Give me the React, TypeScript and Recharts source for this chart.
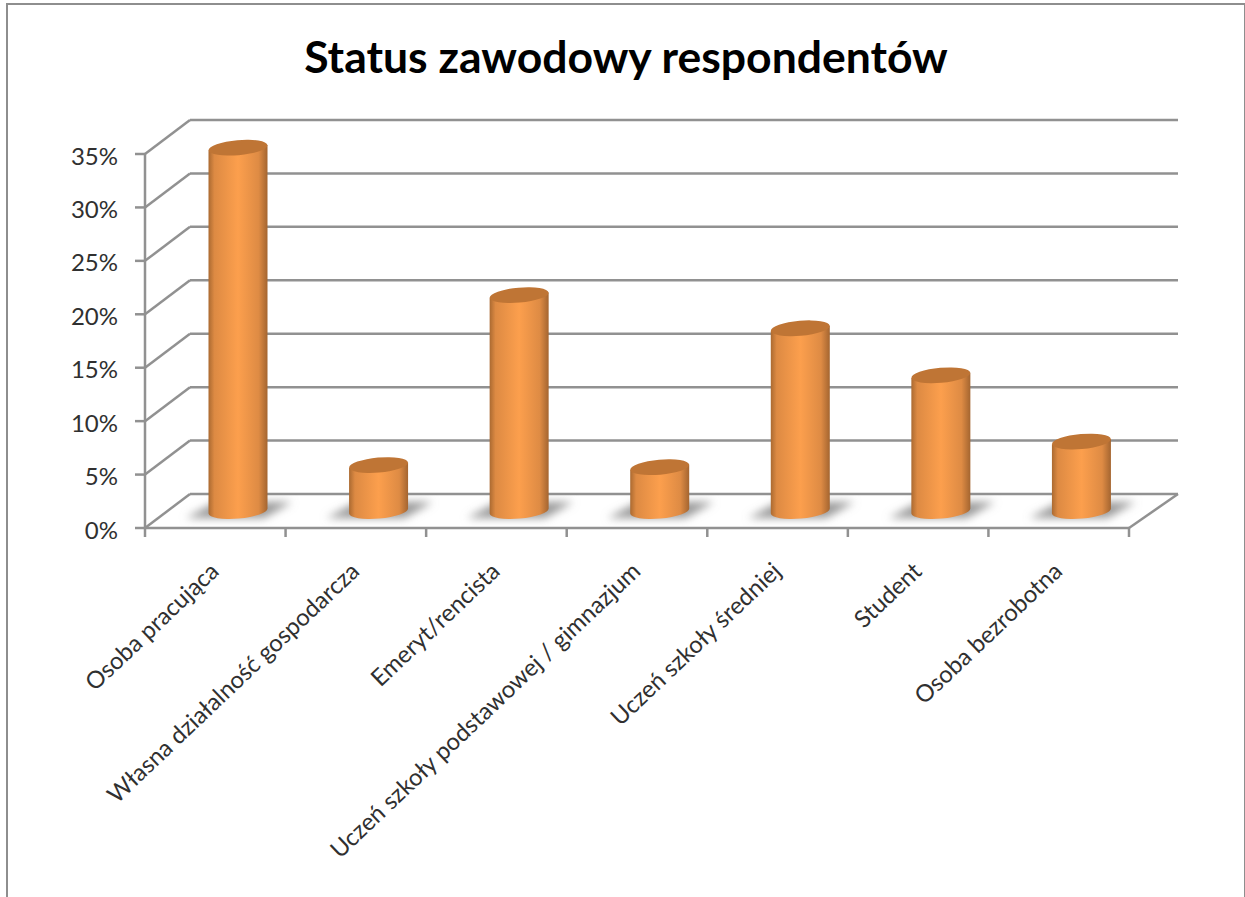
import React from 'react';
import { ComposedChart, Bar, XAxis, YAxis, CartesianGrid } from 'recharts';

const categories = [
  'Osoba pracująca',
  'Własna działalność gospodarcza',
  'Emeryt/rencista',
  'Uczeń szkoły podstawowej / gimnazjum',
  'Uczeń szkoły średniej',
  'Student',
  'Osoba bezrobotna',
];
const shares = [34, 4.3, 20.2, 4.1, 17.1, 12.7, 6.5];
const yTicks = [0, 5, 10, 15, 20, 25, 30, 35];

const chartData = categories.map((name, i) => ({ name, share: shares[i] }));

const FONT = 'Lato, sans-serif';
const AXIS_GREY = '#919191';
const TEXT_COLOR = '#303030';
const DEPTH_X = 45;
const DEPTH_Y = 34;
const PLOT_LEFT = 145;
const PLOT_RIGHT = 1129;
const PLOT_TOP = 154;
const PLOT_BOTTOM = 528;
const SLOT = (PLOT_RIGHT - PLOT_LEFT) / categories.length;

// back wall line plus the diagonal down to the front axis
const WallLine = (props: any) => {
  const { x1, x2, y1 } = props;
  const isFloor = Math.abs(y1 - PLOT_BOTTOM) < 1;
  return (
    <g key={props.key} fill="none" stroke={AXIS_GREY} strokeWidth={2.5}>
      <line x1={x1} y1={y1} x2={x1 + DEPTH_X} y2={y1 - DEPTH_Y} />
      <line x1={x1 + DEPTH_X} y1={y1 - DEPTH_Y} x2={x2 + 49} y2={y1 - DEPTH_Y} />
      {isFloor && <line x1={x2} y1={y1} x2={x2 + 49} y2={y1 - DEPTH_Y} />}
    </g>
  );
};

// cylinder standing halfway into the depth of the floor
const Cylinder = (props: any) => {
  const { x, y, width, height } = props;
  const cx = x + width / 2 + DEPTH_X / 2;
  const top = y - DEPTH_Y / 2;
  const bottom = y + height - DEPTH_Y / 2;
  const rx = width / 2;
  const ry = 7.5;
  const tilt = 2.6;
  const body = `M${cx - rx} ${top + tilt} L${cx + rx} ${top - tilt} L${cx + rx} ${bottom - tilt} A${rx} ${ry} -5 0 1 ${cx - rx} ${bottom + tilt} Z`;
  const shadow = [
    [cx - 52, bottom + 7],
    [cx + 26, bottom + 7],
    [cx + 54, bottom - 9],
    [cx - 22, bottom - 9],
  ].map(p => p.join(',')).join(' ');
  return (
    <g>
      <polygon points={shadow} fill="#999999" filter="url(#floorBlur)" />
      <path d={body} fill="url(#cylinderSide)" />
      <ellipse cx={cx} cy={top} rx={rx} ry={ry} fill="#bf7535" transform={`rotate(-5 ${cx} ${top})`} />
    </g>
  );
};

const CategoryTick = (props: any) => {
  const { x, y, payload, index } = props;
  return (
    <g>
      <line x1={x - SLOT / 2} y1={y} x2={x - SLOT / 2} y2={y + 9} stroke={AXIS_GREY} strokeWidth={2.5} />
      {index === categories.length - 1 && (
        <line x1={x + SLOT / 2} y1={y} x2={x + SLOT / 2} y2={y + 9} stroke={AXIS_GREY} strokeWidth={2.5} />
      )}
      <text
        transform={`translate(${x + 5} ${y + 45}) rotate(-43.5)`}
        textAnchor="end"
        fontFamily={FONT}
        fontSize={23.8}
        fill={TEXT_COLOR}
      >
        {payload.value}
      </text>
    </g>
  );
};

export default function App() {
  return (
    <div style={{ position: 'absolute', left: 0, top: 0, width: 1245, height: 897, overflow: 'hidden', background: '#fff' }}>
      <div
        style={{
          position: 'absolute',
          left: 6,
          top: 3,
          width: 1236,
          height: 920,
          border: '2px solid #8e8e8e',
          boxSizing: 'content-box',
        }}
      />
      <div
        style={{
          position: 'absolute',
          left: 0,
          right: 0,
          top: 27,
          paddingLeft: 7,
          textAlign: 'center',
          fontFamily: FONT,
          fontWeight: 700,
          fontSize: 44.5,
          lineHeight: '58px',
          color: '#000',
          whiteSpace: 'nowrap',
        }}
      >
        Status zawodowy respondentów
      </div>
      <div style={{ position: 'absolute', left: 0, top: 0 }}>
        <ComposedChart
          width={1245}
          height={897}
          data={chartData}
          margin={{ top: PLOT_TOP, right: 1245 - PLOT_RIGHT, bottom: 69, left: PLOT_LEFT - 60 }}
        >
          <defs>
            <linearGradient id="cylinderSide" x1="0" y1="0" x2="1" y2="0">
              <stop offset="0" stopColor="#ab6a31" />
              <stop offset="0.1" stopColor="#dd8a43" />
              <stop offset="0.5" stopColor="#fc9f4d" />
              <stop offset="0.85" stopColor="#de8b44" />
              <stop offset="1" stopColor="#a46530" />
            </linearGradient>
            <filter id="floorBlur" x="-20%" y="-50%" width="140%" height="200%">
              <feGaussianBlur stdDeviation="4" />
            </filter>
          </defs>
          <CartesianGrid vertical={false} horizontal={WallLine} syncWithTicks />
          <XAxis
            dataKey="name"
            height={300}
            interval={0}
            tickSize={0}
            tickMargin={0}
            tickLine={false}
            axisLine={{ stroke: AXIS_GREY, strokeWidth: 2.5 }}
            tick={CategoryTick}
          />
          <YAxis
            width={60}
            domain={[0, 35]}
            ticks={yTicks}
            tickFormatter={(v: number) => `${v}%`}
            tickSize={10}
            tickMargin={17}
            axisLine={{ stroke: AXIS_GREY, strokeWidth: 2.5 }}
            tickLine={{ stroke: AXIS_GREY, strokeWidth: 2.5 }}
            tick={{ fontFamily: FONT, fontSize: 24, fill: TEXT_COLOR, dy: 2 }}
          />
          <Bar dataKey="share" barSize={59} shape={Cylinder} isAnimationActive={false} />
        </ComposedChart>
      </div>
    </div>
  );
}
